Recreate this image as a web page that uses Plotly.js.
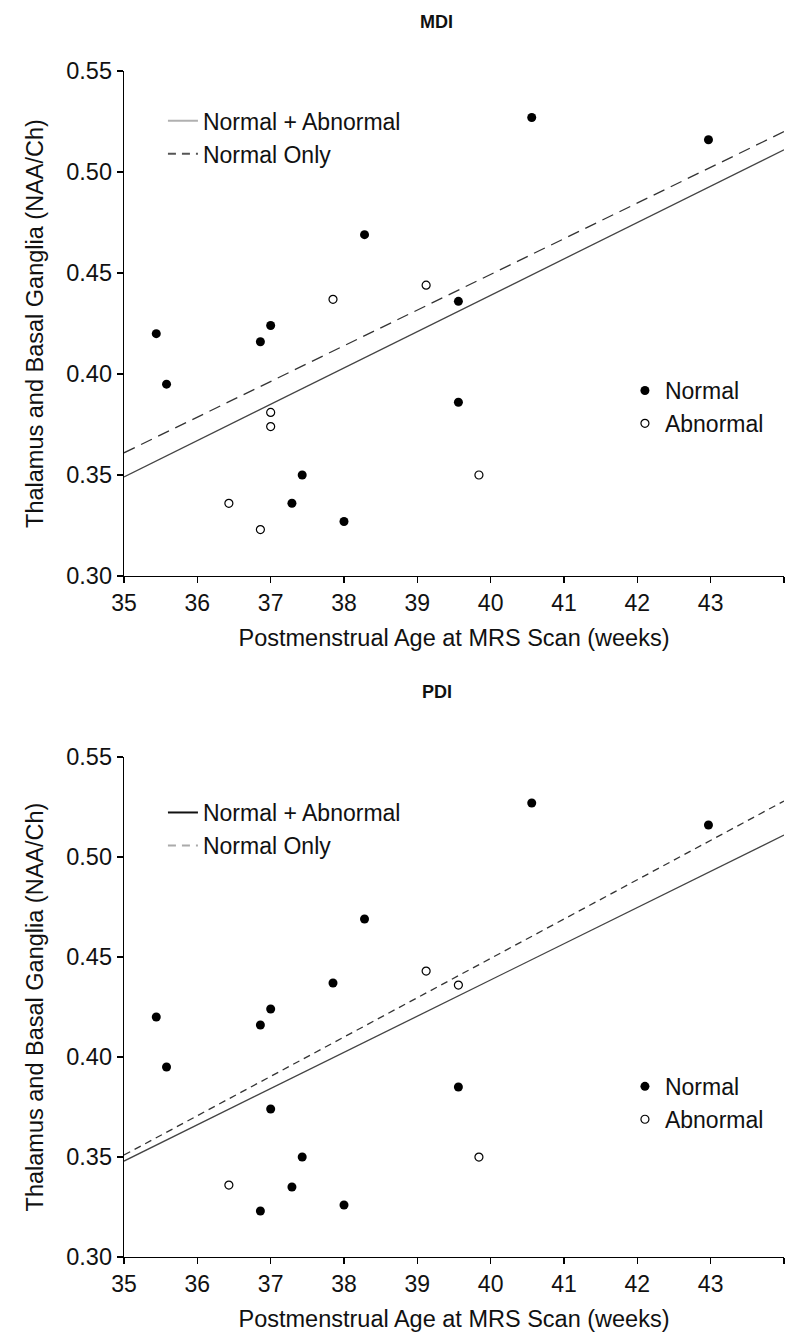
<!DOCTYPE html>
<html>
<head>
<meta charset="utf-8">
<script src="https://cdn.plot.ly/plotly-3.0.1.min.js"></script>
<style>html,body{margin:0;padding:0;background:#fff;}#chart{width:795px;height:1338px;}</style>
</head>
<body>
<div id="chart"></div>
<script>
// ---- data ----
const xTickVals = [35, 36, 37, 38, 39, 40, 41, 42, 43, 44];
const yTickVals = [0.30, 0.35, 0.40, 0.45, 0.50, 0.55];
const yTickText = ['0.30', '0.35', '0.40', '0.45', '0.50', '0.55'];
const fitX = [35, 44];

// MDI panel
const mdiNormalX = [35.44, 35.58, 36.86, 37.00, 37.29, 37.43, 38.00, 38.28, 39.56, 39.56, 40.56, 42.97];
const mdiNormalY = [0.420, 0.395, 0.416, 0.424, 0.336, 0.350, 0.327, 0.469, 0.436, 0.386, 0.527, 0.516];
const mdiAbnormalX = [36.43, 36.86, 37.00, 37.00, 37.85, 39.12, 39.84];
const mdiAbnormalY = [0.336, 0.323, 0.381, 0.374, 0.437, 0.444, 0.350];
const mdiFitAllY = [0.349, 0.511];
const mdiFitNormalY = [0.361, 0.520];

// PDI panel
const pdiNormalX = [35.44, 35.58, 36.86, 36.86, 37.00, 37.00, 37.29, 37.43, 37.85, 38.00, 38.28, 39.56, 40.56, 42.97];
const pdiNormalY = [0.420, 0.395, 0.416, 0.323, 0.424, 0.374, 0.335, 0.350, 0.437, 0.326, 0.469, 0.385, 0.527, 0.516];
const pdiAbnormalX = [36.43, 39.12, 39.56, 39.84];
const pdiAbnormalY = [0.336, 0.443, 0.436, 0.350];
const pdiFitAllY = [0.348, 0.511];
const pdiFitNormalY = [0.351, 0.528];

const panelTitles = ['MDI', 'PDI'];
const xTitle = 'Postmenstrual Age at MRS Scan (weeks)';
const yTitle = 'Thalamus and Basal Ganglia (NAA/Ch)';
const lineNames = ['Normal + Abnormal', 'Normal Only'];
const groupNames = ['Normal', 'Abnormal'];

// ---- styles ----
const FONT = 'Liberation Sans, Arial, Helvetica, sans-serif';
const TXT = '#111';
const filledMarker = {symbol: 'circle', size: 9, color: '#000', line: {width: 0}};
const openMarker = {symbol: 'circle', size: 8, color: '#fff', line: {width: 1.2, color: '#000'}};

function panelTraces(xa, ya, fitAll, fitNormal, nX, nY, aX, aY, legLines, legMarks, legSolidColor, legDashColor, dashPat) {
  return [
    {x: fitX, y: fitAll, xaxis: xa, yaxis: ya, mode: 'lines', line: {color: '#444', width: 1.3}, showlegend: false, hoverinfo: 'skip'},
    {x: fitX, y: fitNormal, xaxis: xa, yaxis: ya, mode: 'lines', line: {color: '#333', width: 1.3, dash: dashPat}, showlegend: false, hoverinfo: 'skip'},
    {x: nX, y: nY, xaxis: xa, yaxis: ya, mode: 'markers', marker: filledMarker, name: groupNames[0], legend: legMarks},
    {x: aX, y: aY, xaxis: xa, yaxis: ya, mode: 'markers', marker: openMarker, name: groupNames[1], legend: legMarks},
    {x: [null], y: [null], xaxis: xa, yaxis: ya, mode: 'lines', line: {color: legSolidColor, width: 2}, name: lineNames[0], legend: legLines},
    {x: [null], y: [null], xaxis: xa, yaxis: ya, mode: 'lines', line: {color: legDashColor, width: 2, dash: '8px,6px'}, name: lineNames[1], legend: legLines}
  ];
}

const data = [].concat(
  panelTraces('x', 'y', mdiFitAllY, mdiFitNormalY, mdiNormalX, mdiNormalY, mdiAbnormalX, mdiAbnormalY, 'legend', 'legend2', '#b0b0b0', '#555', '12px,7px'),
  panelTraces('x2', 'y2', pdiFitAllY, pdiFitNormalY, pdiNormalX, pdiNormalY, pdiAbnormalX, pdiAbnormalY, 'legend3', 'legend4', '#111', '#aaa', '7px,5px')
);

function xAxis(anchor) {
  return {
    anchor: anchor, domain: [0, 1], range: [35, 44], tickmode: 'array', tickvals: xTickVals,
    showline: true, linecolor: '#000', linewidth: 1.3, ticks: 'outside', ticklen: 6, tickcolor: '#000', tickwidth: 1.3,
    showgrid: false, zeroline: false, fixedrange: true,
    tickfont: {family: FONT, size: 23, color: TXT},
    title: {text: xTitle, font: {family: FONT, size: 23.5, color: TXT}, standoff: 14}
  };
}
function yAxis(anchor, domain) {
  return {
    anchor: anchor, domain: domain, range: [0.30, 0.55], tickmode: 'array', tickvals: yTickVals, ticktext: yTickText,
    showline: true, linecolor: '#000', linewidth: 1.3, ticks: 'outside', ticklen: 6, tickcolor: '#000', tickwidth: 1.3,
    showgrid: false, zeroline: false, fixedrange: true,
    tickfont: {family: FONT, size: 23.5, color: TXT},
    title: {text: yTitle, font: {family: FONT, size: 23.5, color: TXT}, standoff: 16}
  };
}

function legendCfg(x, y) {
  return {x: x, y: y, xanchor: 'left', yanchor: 'top', bgcolor: 'rgba(0,0,0,0)', borderwidth: 0,
    font: {family: FONT, size: 23, color: TXT}, itemwidth: 30, tracegroupgap: 0, traceorder: 'normal'};
}

const layout = {
  width: 795, height: 1338,
  margin: {l: 124, r: 11, t: 0, b: 0},
  paper_bgcolor: '#fff', plot_bgcolor: '#fff',
  font: {family: FONT, color: TXT},
  showlegend: true,
  xaxis: xAxis('y'),
  yaxis: yAxis('x', [0.5695, 0.9469]),
  xaxis2: xAxis('y2'),
  yaxis2: yAxis('x2', [0.0605, 0.4342]),
  legend: legendCfg(0.059, 0.9257),
  legend2: legendCfg(0.759, 0.7242),
  legend3: legendCfg(0.059, 0.4088),
  legend4: legendCfg(0.759, 0.2041),
  annotations: [
    {text: '<b>' + panelTitles[0] + '</b>', xref: 'paper', yref: 'paper', x: 0.474, y: 0.9836, yanchor: 'middle', showarrow: false, font: {family: FONT, size: 18, color: TXT}},
    {text: '<b>' + panelTitles[1] + '</b>', xref: 'paper', yref: 'paper', x: 0.474, y: 0.4828, yanchor: 'middle', showarrow: false, font: {family: FONT, size: 18, color: TXT}}
  ]
};

Plotly.newPlot('chart', data, layout, {staticPlot: true, displayModeBar: false});
</script>
</body>
</html>
